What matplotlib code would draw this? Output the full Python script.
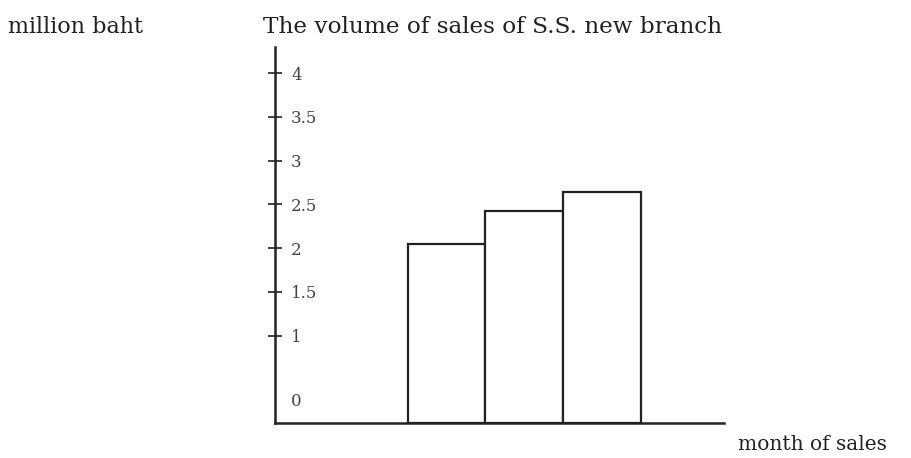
import matplotlib
matplotlib.use("Agg")
import matplotlib.pyplot as plt
from matplotlib.transforms import ScaledTranslation

months = [1, 2, 3]
sales = [2.05, 2.42, 2.64]
yticks = [0, 1, 1.5, 2, 2.5, 3, 3.5, 4]
yticklabels = ["0", "1", "1.5", "2", "2.5", "3", "3.5", "4"]

plt.rcParams['font.family'] = ['DejaVu Serif']

fig = plt.figure(figsize=(9.11, 4.58), dpi=100)
ax = fig.add_axes([275/911, (458-423)/458, 449/911, (423-47)/458])

xs = [m - 1 for m in months]
ax.bar(xs, sales, width=1.0, facecolor='white', edgecolor='#222222', linewidth=1.6)

ax.set_xlim(-2.2, 3.56)
ax.set_ylim(0, 4.30)
for s in ['top', 'right']:
    ax.spines[s].set_visible(False)
for s in ['left', 'bottom']:
    ax.spines[s].set_linewidth(1.8)
    ax.spines[s].set_color('#222222')

ax.set_xticks([])
ax.set_yticks(yticks)
ax.set_yticklabels(yticklabels)
ax.tick_params(axis='y', direction='inout', length=10, width=1.2, colors='#222222',
               labelcolor='#444444', labelsize=12, pad=-16.5)
for lab in ax.get_yticklabels():
    lab.set_ha('left')
zero = ax.yaxis.get_major_ticks()[0]
zero.tick1line.set_visible(False)
zero.label1.set_transform(zero.label1.get_transform() + ScaledTranslation(0, 0.23, fig.dpi_scale_trans))

fig.text(8/911, 1 - 33/458, "million baht", fontsize=16, va='baseline', ha='left', color='#222222')
fig.text(263/911, 1 - 33/458, "The volume of sales of S.S. new branch", fontsize=16.7,
         va='baseline', ha='left', color='#222222')
fig.text(738/911, 1 - 450/458, "month of sales", fontsize=14.5, va='baseline', ha='left', color='#222222')

fig.savefig("out.png", dpi=100)
